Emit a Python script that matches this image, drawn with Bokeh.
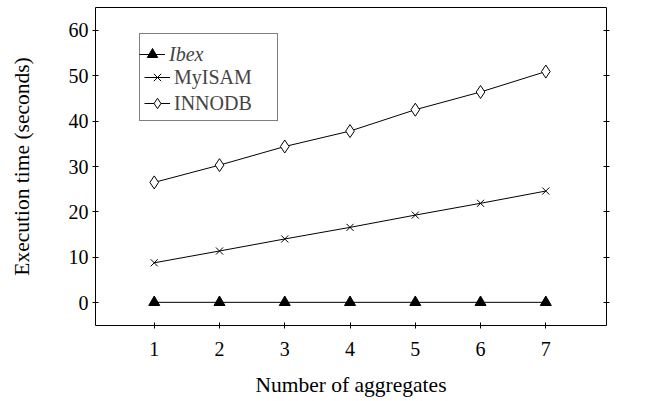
from bokeh.plotting import figure
from bokeh.models import Range1d, LinearAxis, FixedTicker, Legend, LegendItem
from bokeh.embed import file_html
from bokeh.resources import INLINE

aggregates = [1, 2, 3, 4, 5, 6, 7]
ibex = [0.1, 0.1, 0.1, 0.1, 0.1, 0.1, 0.1]
myisam = [8.8, 11.4, 14.05, 16.6, 19.3, 21.9, 24.6]
innodb = [26.5, 30.3, 34.4, 37.8, 42.5, 46.4, 50.9]
y_ticks = [0, 10, 20, 30, 40, 50, 60]

FONT = "Liberation Serif"

p = figure(width=658, height=401, output_backend="svg", toolbar_location=None,
           x_range=Range1d(0.1, 7.93), y_range=Range1d(-5, 65),
           min_border_left=95, min_border_top=7, min_border_right=52, min_border_bottom=76)
p.frame_width = 511
p.frame_height = 318
p.xgrid.visible = False
p.ygrid.visible = False
p.outline_line_color = "black"
p.outline_line_width = 1
p.background_fill_color = "white"
p.border_fill_color = "white"

for ax in (p.xaxis[0], p.yaxis[0]):
    ax.axis_line_color = None
    ax.major_tick_in = 3
    ax.major_tick_out = 3
    ax.minor_tick_line_color = None
    ax.major_tick_line_color = "black"
    ax.major_label_text_font = FONT
    ax.major_label_text_font_size = "20px"
    ax.major_label_text_color = "black"
    ax.axis_label_text_font = FONT
    ax.axis_label_text_font_size = "21.5px"
    ax.axis_label_text_font_style = "normal"
    ax.axis_label_text_color = "black"

p.xaxis.ticker = FixedTicker(ticks=aggregates)
p.yaxis.ticker = FixedTicker(ticks=y_ticks)
p.xaxis.axis_label = "Number of aggregates"
p.yaxis.axis_label = "Execution time (seconds)"
p.xaxis.major_label_standoff = 13
p.yaxis.major_label_standoff = 4
p.xaxis.axis_label_standoff = 14
p.yaxis.axis_label_standoff = 32

right = LinearAxis(ticker=FixedTicker(ticks=y_ticks), major_label_text_font_size="0px",
                   major_tick_in=3, major_tick_out=3, axis_line_color=None,
                   minor_tick_line_color=None, major_label_text_color=None)
p.add_layout(right, "right")

r_ibex = p.line(aggregates, ibex, line_color="black", line_width=1)
m_ibex = p.scatter(aggregates, ibex, marker="triangle", size=11, fill_color="black", line_color="black")
r_my = p.line(aggregates, myisam, line_color="black", line_width=1)
m_my = p.scatter(aggregates, myisam, marker="x", size=10, line_color="black", line_width=1)
r_inn = p.line(aggregates, innodb, line_color="black", line_width=1)
m_inn = p.scatter(aggregates, innodb, marker="diamond", size=13, fill_color="white", line_color="black", line_width=1)
r_blank = p.line(x=[], y=[], line_alpha=0)

common = dict(label_text_font=FONT, label_text_font_size="20px", padding=4, spacing=0,
              glyph_width=26, glyph_height=26, label_height=26, label_width=99,
              label_standoff=4, margin=0)

legend = Legend(items=[LegendItem(label="", renderers=[r_blank]),
                       LegendItem(label="MyISAM", renderers=[r_my, m_my]),
                       LegendItem(label="INNODB", renderers=[r_inn, m_inn])],
                location=(44, 204), border_line_color="black", border_line_width=1,
                background_fill_alpha=1, **common)
p.add_layout(legend, "center")

legend2 = Legend(items=[LegendItem(label="Ibex", renderers=[r_ibex, m_ibex])],
                 location=(44, 204 + 54), label_text_font_style="italic",
                 border_line_color=None, background_fill_alpha=0, **common)
p.add_layout(legend2, "center")

open("out.html", "w").write(file_html(p, INLINE))
